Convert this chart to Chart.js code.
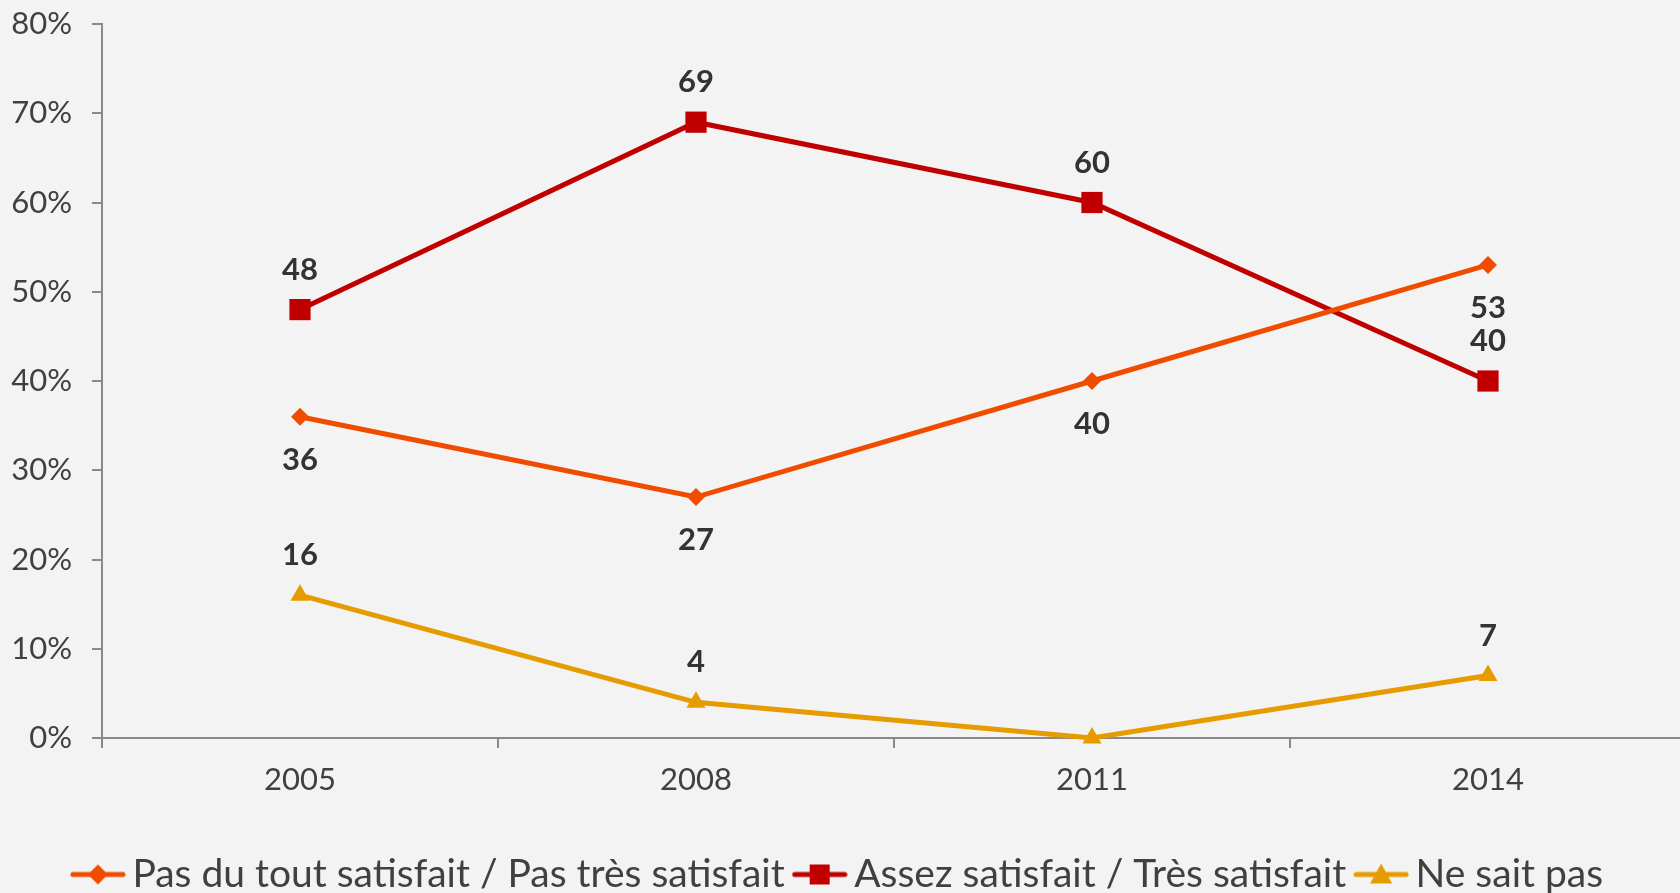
<!DOCTYPE html>
<html>
<head>
<meta charset="utf-8">
<script src="https://cdn.jsdelivr.net/npm/chart.js@4"></script>
<style>
  html, body { margin: 0; padding: 0; background: #f3f3f3; overflow: hidden; }
  #wrap { width: 1680px; height: 893px; overflow: hidden; position: relative; }
  #box { position: absolute; left: 0; top: 0; width: 1686px; height: 904px; }
</style>
</head>
<body>
<div id="wrap"><div id="box"><canvas id="chart"></canvas></div></div>
<script>
const years        = ['2005', '2008', '2011', '2014'];
const pasSatisfait = [36, 27, 40, 53];
const satisfait    = [48, 69, 60, 40];
const neSaitPas    = [16, 4, 0, 7];
const yTicks       = [0, 10, 20, 30, 40, 50, 60, 70, 80];

const FONT = 'Lato, "Open Sans", sans-serif';
const TEXT = '#404040';

// legend swatch: short line with the marker in the middle
function swatch(color, style) {
  const c = document.createElement('canvas');
  c.width = 56; c.height = 26;
  const g = c.getContext('2d');
  g.strokeStyle = color; g.lineWidth = 5; g.lineCap = 'round';
  g.beginPath(); g.moveTo(3, 13); g.lineTo(53, 13); g.stroke();
  g.fillStyle = color;
  g.beginPath();
  if (style === 'rectRot') { g.moveTo(28, 3); g.lineTo(38, 13); g.lineTo(28, 23); g.lineTo(18, 13); }
  else if (style === 'rect') { g.rect(18, 3, 20, 20); }
  else { g.moveTo(28, 2); g.lineTo(39, 22); g.lineTo(17, 22); }
  g.closePath(); g.fill();
  return c;
}

const series = [
  { label: 'Pas du tout satisfait / Pas très satisfait', data: pasSatisfait, color: '#f04c00', style: 'rectRot',  radius: 9,  below: true },
  { label: 'Assez satisfait / Très satisfait',            data: satisfait,    color: '#c00000', style: 'rect',     radius: 15, below: false },
  { label: 'Ne sait pas',                                 data: neSaitPas,    color: '#e69b00', style: 'triangle', radius: 11, below: false },
];

const valueLabels = {
  id: 'valueLabels',
  afterDatasetsDraw(chart) {
    const ctx = chart.ctx;
    ctx.save();
    ctx.font = 'bold 31px ' + FONT;
    ctx.fillStyle = '#333333';
    ctx.textAlign = 'center';
    ctx.textBaseline = 'middle';
    chart.data.datasets.forEach((ds, i) => {
      const meta = chart.getDatasetMeta(i);
      meta.data.forEach((pt, j) => {
        const v = ds.data[j];
        if (!v) return;
        const dy = series[i].below ? 43 : -40;
        ctx.fillText(String(v), pt.x, pt.y + dy);
      });
    });
    ctx.restore();
  }
};

new Chart(document.getElementById('chart'), {
  type: 'line',
  data: {
    labels: years,
    datasets: series.map(s => ({
      label: s.label,
      data: s.data,
      borderColor: s.color,
      backgroundColor: s.color,
      borderWidth: 5,
      pointStyle: s.style,
      pointRadius: s.radius,
      pointHoverRadius: s.radius,
      pointBorderWidth: 0,
      tension: 0,
      clip: false,
    })),
  },
  options: {
    responsive: true,
    maintainAspectRatio: false,
    animation: false,
    events: [],
    layout: { autoPadding: false, padding: { top: 0, right: 0, bottom: 0, left: 0 } },
    plugins: {
      tooltip: { enabled: false },
      legend: {
        position: 'bottom',
        labels: {
          usePointStyle: true,
          pointStyleWidth: 30,
          padding: 20,
          color: TEXT,
          font: { family: FONT, size: 39 },
          generateLabels: chart => series.map((s, i) => ({
            text: s.label,
            pointStyle: swatch(s.color, s.style),
            fillStyle: s.color,
            strokeStyle: s.color,
            lineWidth: 0,
            fontColor: TEXT,
            datasetIndex: i,
            hidden: false,
          })),
        },
      },
    },
    scales: {
      x: {
        offset: true,
        grid: { offset: true, drawOnChartArea: false, drawTicks: true, tickLength: 10, color: '#898989', lineWidth: 2 },
        border: { color: '#898989', width: 2 },
        ticks: { color: TEXT, font: { family: FONT, size: 31 }, padding: 13 },
        afterFit: s => { s.height = 97; s.paddingLeft = 0; s.paddingRight = 0; },
      },
      y: {
        min: 0, max: 80,
        afterBuildTicks: s => { s.ticks = yTicks.map(v => ({ value: v })); },
        grid: { drawOnChartArea: false, drawTicks: true, tickLength: 10, color: '#898989', lineWidth: 2 },
        border: { color: '#898989', width: 2 },
        ticks: { color: TEXT, font: { family: FONT, size: 31 }, padding: 20, callback: v => v + '%' },
        afterFit: s => { s.width = 102; s.paddingTop = 24; },
      },
    },
  },
  plugins: [valueLabels],
});
</script>
</body>
</html>
